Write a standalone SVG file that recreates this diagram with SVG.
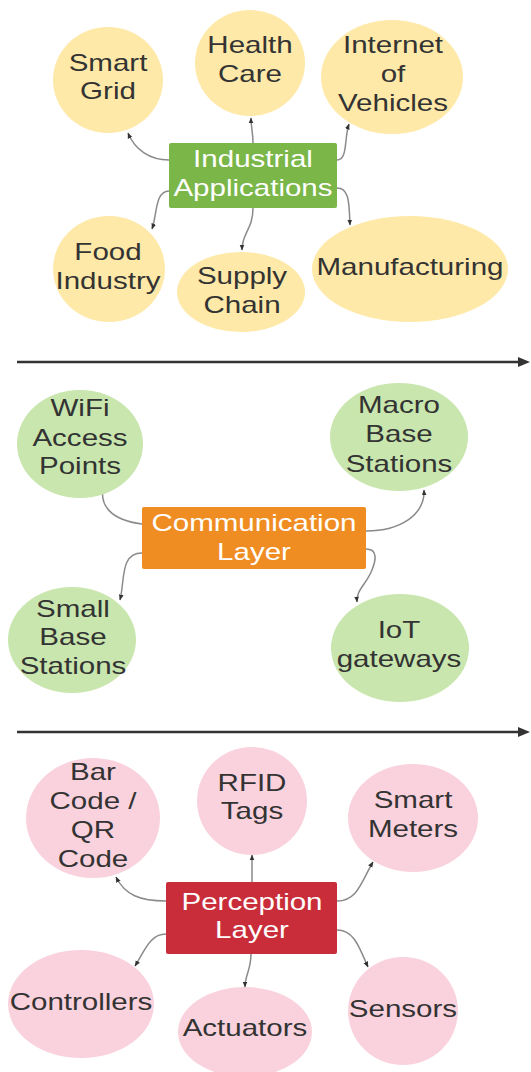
<svg xmlns="http://www.w3.org/2000/svg" width="531" height="1072" viewBox="0 0 531 1072">
<style>
.t{font-family:"Liberation Sans",Arial,sans-serif;font-size:24px;fill:#333333;text-anchor:middle}
.w{fill:#ffffff}
.y{fill:#fee9a8}
.g{fill:#c8e6ad}
.p{fill:#f9d2dd}
.c{fill:none;stroke:#8a8a8a;stroke-width:1.5;marker-end:url(#ah)}
.sep{stroke:#333333;stroke-width:2.5;fill:none}
</style>
<defs>
<marker id="ah" viewBox="0 0 10 10" refX="9" refY="5" markerWidth="6" markerHeight="6" markerUnits="userSpaceOnUse" orient="auto"><path d="M0,1 L10,5 L0,9z" fill="#333333"/></marker>
</defs>
<rect width="531" height="1072" fill="#ffffff"/>

<g id="separators">
<line class="sep" x1="17" y1="362" x2="520" y2="362"/>
<path d="M518,357 L530,362 L518,367z" fill="#333333"/>
<line class="sep" x1="17" y1="732" x2="520" y2="732"/>
<path d="M518,727 L530,732 L518,737z" fill="#333333"/>
</g>

<g id="connectors">
<path class="c" d="M169,160 C150,160 135,150 128,133"/>
<path class="c" d="M253,143 C253,132 251,128 251,118"/>
<path class="c" d="M337,160 C348,160 344,138 349,124"/>
<path class="c" d="M169,191 C155,191 157,215 152,229"/>
<path class="c" d="M253,208 C253,230 242,232 242,250"/>
<path class="c" d="M337,188 C350,188 349,205 350,225"/>

<path class="c" d="M142,524 C110,520 100,505 103,488"/>
<path class="c" d="M366,531 C400,531 425,515 424,490"/>
<path class="c" d="M142,553 C120,553 125,580 120,600"/>
<path class="c" d="M366,549 C378,549 376,560 372,570 C366,585 356,590 357,602"/>

<path class="c" d="M166,901 C140,901 125,895 116,877"/>
<path class="c" d="M252,882 L252,855"/>
<path class="c" d="M337,901 C358,901 362,880 373,862"/>
<path class="c" d="M166,934 C150,934 145,950 135,966"/>
<path class="c" d="M251,954 C251,970 245,975 245,987"/>
<path class="c" d="M337,930 C355,930 360,950 368,967"/>
</g>

<g id="smart-grid"><ellipse class="y" cx="108" cy="80" rx="55" ry="53"/>
<text class="t" transform="matrix(1.23 0 0 1 -24.84 0)"><tspan x="108" y="71">Smart</tspan><tspan x="108" y="99">Grid</tspan></text></g>
<g id="health-care"><ellipse class="y" cx="250" cy="63" rx="55" ry="53"/>
<text class="t" transform="matrix(1.23 0 0 1 -57.5 0)"><tspan x="250" y="53">Health</tspan><tspan x="250" y="82">Care</tspan></text></g>
<g id="internet-of-vehicles"><ellipse class="y" cx="392" cy="77" rx="71" ry="57"/>
<text class="t" transform="matrix(1.23 0 0 1 -90.39 0)"><tspan x="393" y="53">Internet</tspan><tspan x="393" y="82">of</tspan><tspan x="393" y="111">Vehicles</tspan></text></g>
<g id="industrial-applications"><rect x="169" y="143" width="168" height="65" rx="2" fill="#7ab648"/>
<text class="t w" transform="matrix(1.23 0 0 1 -58.19 0)"><tspan x="253" y="167">Industrial</tspan><tspan x="253" y="196">Applications</tspan></text></g>
<g id="food-industry"><ellipse class="y" cx="109" cy="269" rx="56" ry="53"/>
<text class="t" transform="matrix(1.23 0 0 1 -24.84 0)"><tspan x="108" y="260">Food</tspan><tspan x="108" y="289">Industry</tspan></text></g>
<g id="supply-chain"><ellipse class="y" cx="241" cy="292" rx="64" ry="40"/>
<text class="t" transform="matrix(1.23 0 0 1 -55.66 0)"><tspan x="242" y="284">Supply</tspan><tspan x="242" y="313">Chain</tspan></text></g>
<g id="manufacturing"><ellipse class="y" cx="410" cy="269" rx="98" ry="53"/>
<text class="t" transform="matrix(1.23 0 0 1 -94.3 0)"><tspan x="410" y="275">Manufacturing</tspan></text></g>

<g id="wifi-access-points"><ellipse class="g" cx="80" cy="444" rx="63" ry="54"/>
<text class="t" transform="matrix(1.23 0 0 1 -18.4 0)"><tspan x="80" y="416">WiFi</tspan><tspan x="80" y="446">Access</tspan><tspan x="80" y="474">Points</tspan></text></g>
<g id="macro-base-stations"><ellipse class="g" cx="399" cy="437" rx="69" ry="54"/>
<text class="t" transform="matrix(1.23 0 0 1 -91.77 0)"><tspan x="399" y="413">Macro</tspan><tspan x="399" y="442">Base</tspan><tspan x="399" y="472">Stations</tspan></text></g>
<g id="communication-layer"><rect x="142" y="507" width="224" height="62" rx="2" fill="#ef8d22"/>
<text class="t w" transform="matrix(1.23 0 0 1 -58.42 0)"><tspan x="254" y="531">Communication</tspan><tspan x="254" y="560">Layer</tspan></text></g>
<g id="small-base-stations"><ellipse class="g" cx="72" cy="640" rx="64" ry="53"/>
<text class="t" transform="matrix(1.23 0 0 1 -16.79 0)"><tspan x="73" y="617">Small</tspan><tspan x="73" y="645">Base</tspan><tspan x="73" y="674">Stations</tspan></text></g>
<g id="iot-gateways"><ellipse class="g" cx="400" cy="648" rx="69" ry="54"/>
<text class="t" transform="matrix(1.23 0 0 1 -91.77 0)"><tspan x="399" y="638">IoT</tspan><tspan x="399" y="667">gateways</tspan></text></g>

<g id="bar-code-qr-code"><ellipse class="p" cx="93" cy="818" rx="67" ry="60"/>
<text class="t" transform="matrix(1.23 0 0 1 -21.39 0)"><tspan x="93" y="780">Bar</tspan><tspan x="93" y="809">Code /</tspan><tspan x="93" y="838">QR</tspan><tspan x="93" y="867">Code</tspan></text></g>
<g id="rfid-tags"><ellipse class="p" cx="252" cy="801" rx="55" ry="54"/>
<text class="t" transform="matrix(1.23 0 0 1 -57.96 0)"><tspan x="252" y="791">RFID</tspan><tspan x="252" y="819">Tags</tspan></text></g>
<g id="smart-meters"><ellipse class="p" cx="413" cy="818" rx="65" ry="54"/>
<text class="t" transform="matrix(1.23 0 0 1 -94.99 0)"><tspan x="413" y="808">Smart</tspan><tspan x="413" y="837">Meters</tspan></text></g>
<g id="perception-layer"><rect x="166" y="882" width="171" height="72" rx="2" fill="#c92d39"/>
<text class="t w" transform="matrix(1.23 0 0 1 -57.96 0)"><tspan x="252" y="910">Perception</tspan><tspan x="252" y="938">Layer</tspan></text></g>
<g id="controllers"><ellipse class="p" cx="81" cy="1004" rx="73" ry="54"/>
<text class="t" transform="matrix(1.23 0 0 1 -18.63 0)"><tspan x="81" y="1010">Controllers</tspan></text></g>
<g id="actuators"><ellipse class="p" cx="245" cy="1032" rx="67" ry="45"/>
<text class="t" transform="matrix(1.23 0 0 1 -56.35 0)"><tspan x="245" y="1036">Actuators</tspan></text></g>
<g id="sensors"><ellipse class="p" cx="403" cy="1011" rx="55" ry="54"/>
<text class="t" transform="matrix(1.23 0 0 1 -92.69 0)"><tspan x="403" y="1017">Sensors</tspan></text></g>
</svg>
